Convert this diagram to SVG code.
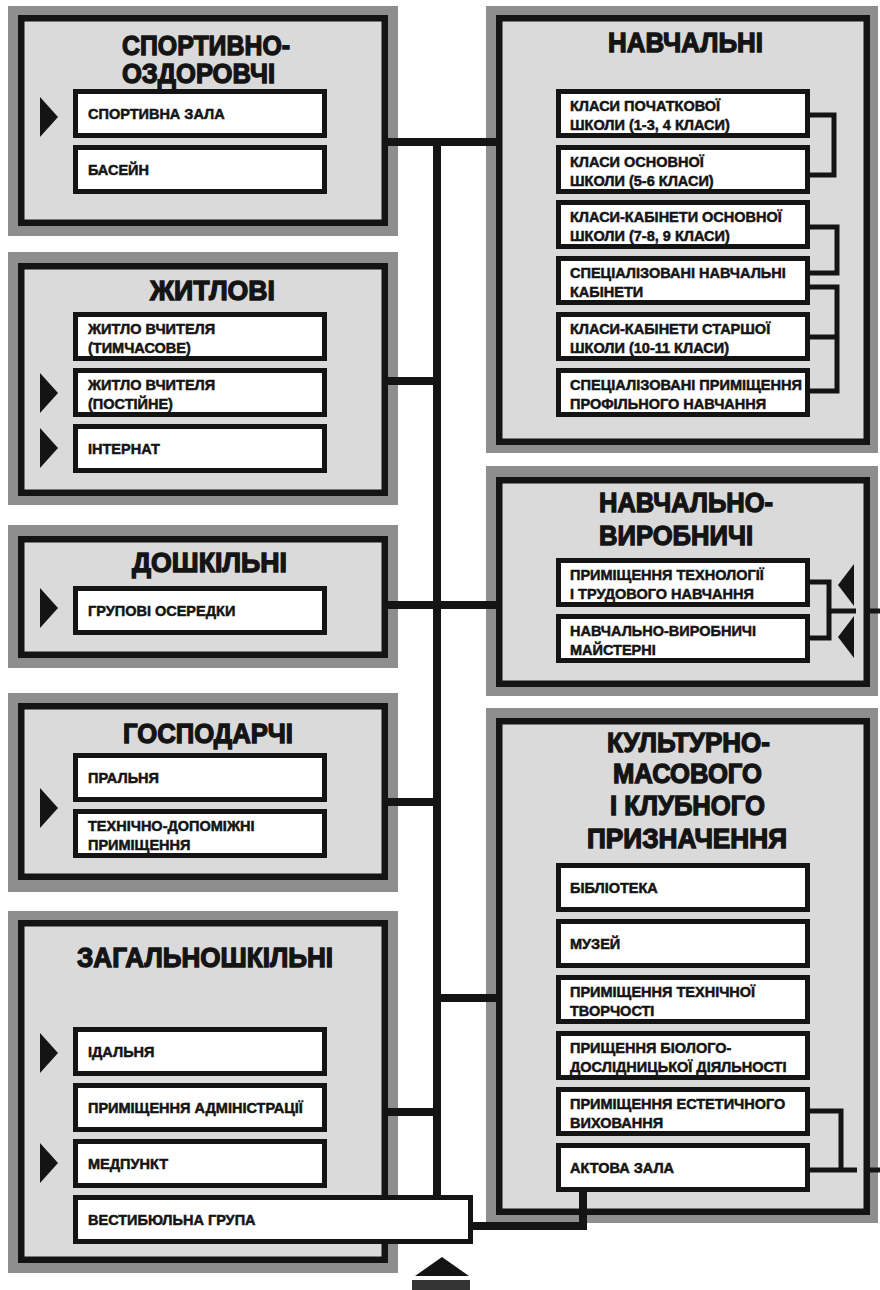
<svg xmlns="http://www.w3.org/2000/svg" width="880" height="1290" viewBox="0 0 880 1290">
<style>
.frame{fill:#8e8e8e}
.panel{fill:#dadada;stroke:#141414;stroke-width:6.5}
.box{fill:#fff;stroke:#141414;stroke-width:5}
.title{font-family:"Liberation Sans",Arial,sans-serif;font-weight:bold;font-size:27px;fill:#141414;stroke:#141414;stroke-width:1.3}
.lbl{font-family:"Liberation Sans",Arial,sans-serif;font-weight:bold;font-size:14.5px;fill:#141414;stroke:#141414;stroke-width:0.5}
.wire{stroke:#141414;stroke-width:8;fill:none}
.brk{stroke:#141414;stroke-width:5;fill:none}
.mark{fill:#141414}
</style>
<rect width="880" height="1290" fill="#fff"/>

<g id="sport">
<rect class="frame" x="8" y="6" width="390" height="230"/>
<rect class="panel" x="21.25" y="18.25" width="363.5" height="204.5"/>
<text class="title" x="122" y="55" textLength="168" lengthAdjust="spacingAndGlyphs">СПОРТИВНО-</text>
<text class="title" x="122" y="83" textLength="153" lengthAdjust="spacingAndGlyphs">ОЗДОРОВЧІ</text>
<rect class="box" x="75.5" y="91.5" width="249" height="44"/>
<text class="lbl" x="88" y="118.5">СПОРТИВНА ЗАЛА</text>
<rect class="box" x="75.5" y="147.5" width="249" height="44"/>
<text class="lbl" x="88" y="174.5">БАСЕЙН</text>
<polygon class="mark" points="40,97 58,117 40,137"/>
</g>

<g id="zhytlovi">
<rect class="frame" x="8" y="252" width="390" height="253"/>
<rect class="panel" x="21.25" y="266.25" width="363.5" height="226.5"/>
<text class="title" x="150" y="300" textLength="125" lengthAdjust="spacingAndGlyphs">ЖИТЛОВІ</text>
<rect class="box" x="75.5" y="314.5" width="249" height="44"/>
<text class="lbl" x="88" y="334">ЖИТЛО ВЧИТЕЛЯ</text>
<text class="lbl" x="88" y="353">(ТИМЧАСОВЕ)</text>
<rect class="box" x="75.5" y="370.5" width="249" height="44"/>
<text class="lbl" x="88" y="390">ЖИТЛО ВЧИТЕЛЯ</text>
<text class="lbl" x="88" y="409">(ПОСТІЙНЕ)</text>
<rect class="box" x="75.5" y="426.5" width="249" height="44"/>
<text class="lbl" x="88" y="453.5">ІНТЕРНАТ</text>
<polygon class="mark" points="40,373 58,393 40,413"/>
<polygon class="mark" points="40,428 58,448 40,468"/>
</g>

<g id="doshkilni">
<rect class="frame" x="8" y="525" width="390" height="143"/>
<rect class="panel" x="21.25" y="539.25" width="363.5" height="115.5"/>
<text class="title" x="132" y="572" textLength="155" lengthAdjust="spacingAndGlyphs">ДОШКІЛЬНІ</text>
<rect class="box" x="75.5" y="588.5" width="249" height="44"/>
<text class="lbl" x="88" y="615.5">ГРУПОВІ ОСЕРЕДКИ</text>
<polygon class="mark" points="40,588 58,608 40,628"/>
</g>

<g id="hospodarchi">
<rect class="frame" x="8" y="693" width="390" height="199"/>
<rect class="panel" x="21.25" y="706.25" width="363.5" height="170.5"/>
<text class="title" x="123" y="743" textLength="170" lengthAdjust="spacingAndGlyphs">ГОСПОДАРЧІ</text>
<rect class="box" x="75.5" y="755.5" width="249" height="44"/>
<text class="lbl" x="88" y="782.5">ПРАЛЬНЯ</text>
<rect class="box" x="75.5" y="811.5" width="249" height="44"/>
<text class="lbl" x="88" y="831">ТЕХНІЧНО-ДОПОМІЖНІ</text>
<text class="lbl" x="88" y="850">ПРИМІЩЕННЯ</text>
<polygon class="mark" points="40,788 58,808 40,828"/>
</g>

<g id="zahalnoshkilni">
<rect class="frame" x="8" y="911" width="390" height="362"/>
<rect class="panel" x="21.25" y="923.25" width="363.5" height="336.5"/>
<text class="title" x="77" y="967" textLength="256" lengthAdjust="spacingAndGlyphs">ЗАГАЛЬНОШКІЛЬНІ</text>
<rect class="box" x="75.5" y="1029.5" width="249" height="44"/>
<text class="lbl" x="88" y="1056.5">ІДАЛЬНЯ</text>
<rect class="box" x="75.5" y="1085.5" width="249" height="44"/>
<text class="lbl" x="88" y="1112.5">ПРИМІЩЕННЯ АДМІНІСТРАЦІЇ</text>
<rect class="box" x="75.5" y="1141.5" width="249" height="44"/>
<text class="lbl" x="88" y="1168.5">МЕДПУНКТ</text>
<polygon class="mark" points="40,1033 58,1053 40,1073"/>
<polygon class="mark" points="40,1143 58,1163 40,1183"/>
</g>

<g id="navchalni">
<rect class="frame" x="486" y="6" width="392" height="447"/>
<rect class="panel" x="499.25" y="18.25" width="367.5" height="423.5"/>
<text class="title" x="608" y="52" textLength="155" lengthAdjust="spacingAndGlyphs">НАВЧАЛЬНІ</text>
<rect class="box" x="558.5" y="91.5" width="249" height="44"/>
<text class="lbl" x="570" y="111">КЛАСИ ПОЧАТКОВОЇ</text>
<text class="lbl" x="570" y="130">ШКОЛИ (1-3, 4 КЛАСИ)</text>
<rect class="box" x="558.5" y="147.5" width="249" height="44"/>
<text class="lbl" x="570" y="167">КЛАСИ ОСНОВНОЇ</text>
<text class="lbl" x="570" y="186">ШКОЛИ (5-6 КЛАСИ)</text>
<rect class="box" x="558.5" y="202.5" width="249" height="44"/>
<text class="lbl" x="570" y="222">КЛАСИ-КАБІНЕТИ ОСНОВНОЇ</text>
<text class="lbl" x="570" y="241">ШКОЛИ (7-8, 9 КЛАСИ)</text>
<rect class="box" x="558.5" y="258.5" width="249" height="44"/>
<text class="lbl" x="570" y="278">СПЕЦІАЛІЗОВАНІ НАВЧАЛЬНІ</text>
<text class="lbl" x="570" y="297">КАБІНЕТИ</text>
<rect class="box" x="558.5" y="314.5" width="249" height="44"/>
<text class="lbl" x="570" y="334">КЛАСИ-КАБІНЕТИ СТАРШОЇ</text>
<text class="lbl" x="570" y="353">ШКОЛИ (10-11 КЛАСИ)</text>
<rect class="box" x="558.5" y="370.5" width="249" height="44"/>
<text class="lbl" x="570" y="390" textLength="232" lengthAdjust="spacingAndGlyphs">СПЕЦІАЛІЗОВАНІ ПРИМІЩЕННЯ</text>
<text class="lbl" x="570" y="409">ПРОФІЛЬНОГО НАВЧАННЯ</text>
</g>

<g id="navchalno-vyrobnychi">
<rect class="frame" x="486" y="466" width="392" height="230"/>
<rect class="panel" x="499.25" y="480.25" width="367.5" height="203.5"/>
<text class="title" x="599" y="512" textLength="174" lengthAdjust="spacingAndGlyphs">НАВЧАЛЬНО-</text>
<text class="title" x="599" y="545" textLength="154" lengthAdjust="spacingAndGlyphs">ВИРОБНИЧІ</text>
<rect class="box" x="558.5" y="560.5" width="249" height="44"/>
<text class="lbl" x="570" y="580">ПРИМІЩЕННЯ ТЕХНОЛОГІЇ</text>
<text class="lbl" x="570" y="599">І ТРУДОВОГО НАВЧАННЯ</text>
<rect class="box" x="558.5" y="616.5" width="249" height="44"/>
<text class="lbl" x="570" y="636">НАВЧАЛЬНО-ВИРОБНИЧІ</text>
<text class="lbl" x="570" y="655">МАЙСТЕРНІ</text>
<polygon class="mark" points="838,585 854,564 854,606"/>
<polygon class="mark" points="838,637 854,616 854,658"/>
</g>

<g id="kulturno-masovoho">
<rect class="frame" x="486" y="708" width="392" height="515"/>
<rect class="panel" x="499.25" y="721.25" width="367.5" height="490.5"/>
<text class="title" x="607" y="752" textLength="163" lengthAdjust="spacingAndGlyphs">КУЛЬТУРНО-</text>
<text class="title" x="613" y="783" textLength="149" lengthAdjust="spacingAndGlyphs">МАСОВОГО</text>
<text class="title" x="610" y="815" textLength="155" lengthAdjust="spacingAndGlyphs">І КЛУБНОГО</text>
<text class="title" x="587" y="848" textLength="200" lengthAdjust="spacingAndGlyphs">ПРИЗНАЧЕННЯ</text>
<rect class="box" x="558.5" y="865.5" width="249" height="44"/>
<text class="lbl" x="570" y="892.5">БІБЛІОТЕКА</text>
<rect class="box" x="558.5" y="921.5" width="249" height="44"/>
<text class="lbl" x="570" y="948.5">МУЗЕЙ</text>
<rect class="box" x="558.5" y="977.5" width="249" height="44"/>
<text class="lbl" x="570" y="997">ПРИМІЩЕННЯ ТЕХНІЧНОЇ</text>
<text class="lbl" x="570" y="1016">ТВОРЧОСТІ</text>
<rect class="box" x="558.5" y="1033.5" width="249" height="44"/>
<text class="lbl" x="570" y="1053">ПРИЩЕННЯ БІОЛОГО-</text>
<text class="lbl" x="570" y="1072">ДОСЛІДНИЦЬКОЇ ДІЯЛЬНОСТІ</text>
<rect class="box" x="558.5" y="1089.5" width="249" height="44"/>
<text class="lbl" x="570" y="1109">ПРИМІЩЕННЯ ЕСТЕТИЧНОГО</text>
<text class="lbl" x="570" y="1128">ВИХОВАННЯ</text>
<rect class="box" x="558.5" y="1145.5" width="249" height="44"/>
<text class="lbl" x="570" y="1172.5">АКТОВА ЗАЛА</text>
</g>

<g id="connectors">
<path class="wire" d="M437,138 V1195"/>
<path class="wire" d="M388,142 H497"/>
<path class="wire" d="M388,381 H437"/>
<path class="wire" d="M388,605 H497"/>
<path class="wire" d="M388,802 H437"/>
<path class="wire" d="M437,998 H496"/>
<path class="wire" d="M388,1112 H437"/>
<path class="wire" d="M473,1226 H583 V1190"/>
<path class="brk" d="M810,115 H834 V175 H810"/>
<path class="brk" d="M810,227 H837 V273 H810"/>
<path class="brk" d="M810,287 H837 V391 H810 M810,337 H837"/>
<path class="brk" d="M810,582 H829 V638 H810 M829,611 H856 M864,611 H880"/>
<path class="brk" d="M810,1111 H841 V1170 M810,1170 H857 M864,1170 H880"/>
</g>

<g id="vestybiulna">
<rect class="box" x="75.5" y="1197.5" width="395" height="44"/>
<text class="lbl" x="88" y="1224.5">ВЕСТИБЮЛЬНА ГРУПА</text>
</g>

<g id="entrance">
<polygon class="mark" points="415,1276 442,1257 469,1276"/>
<rect x="412" y="1280" width="58" height="10" fill="#333"/>
</g>
</svg>
